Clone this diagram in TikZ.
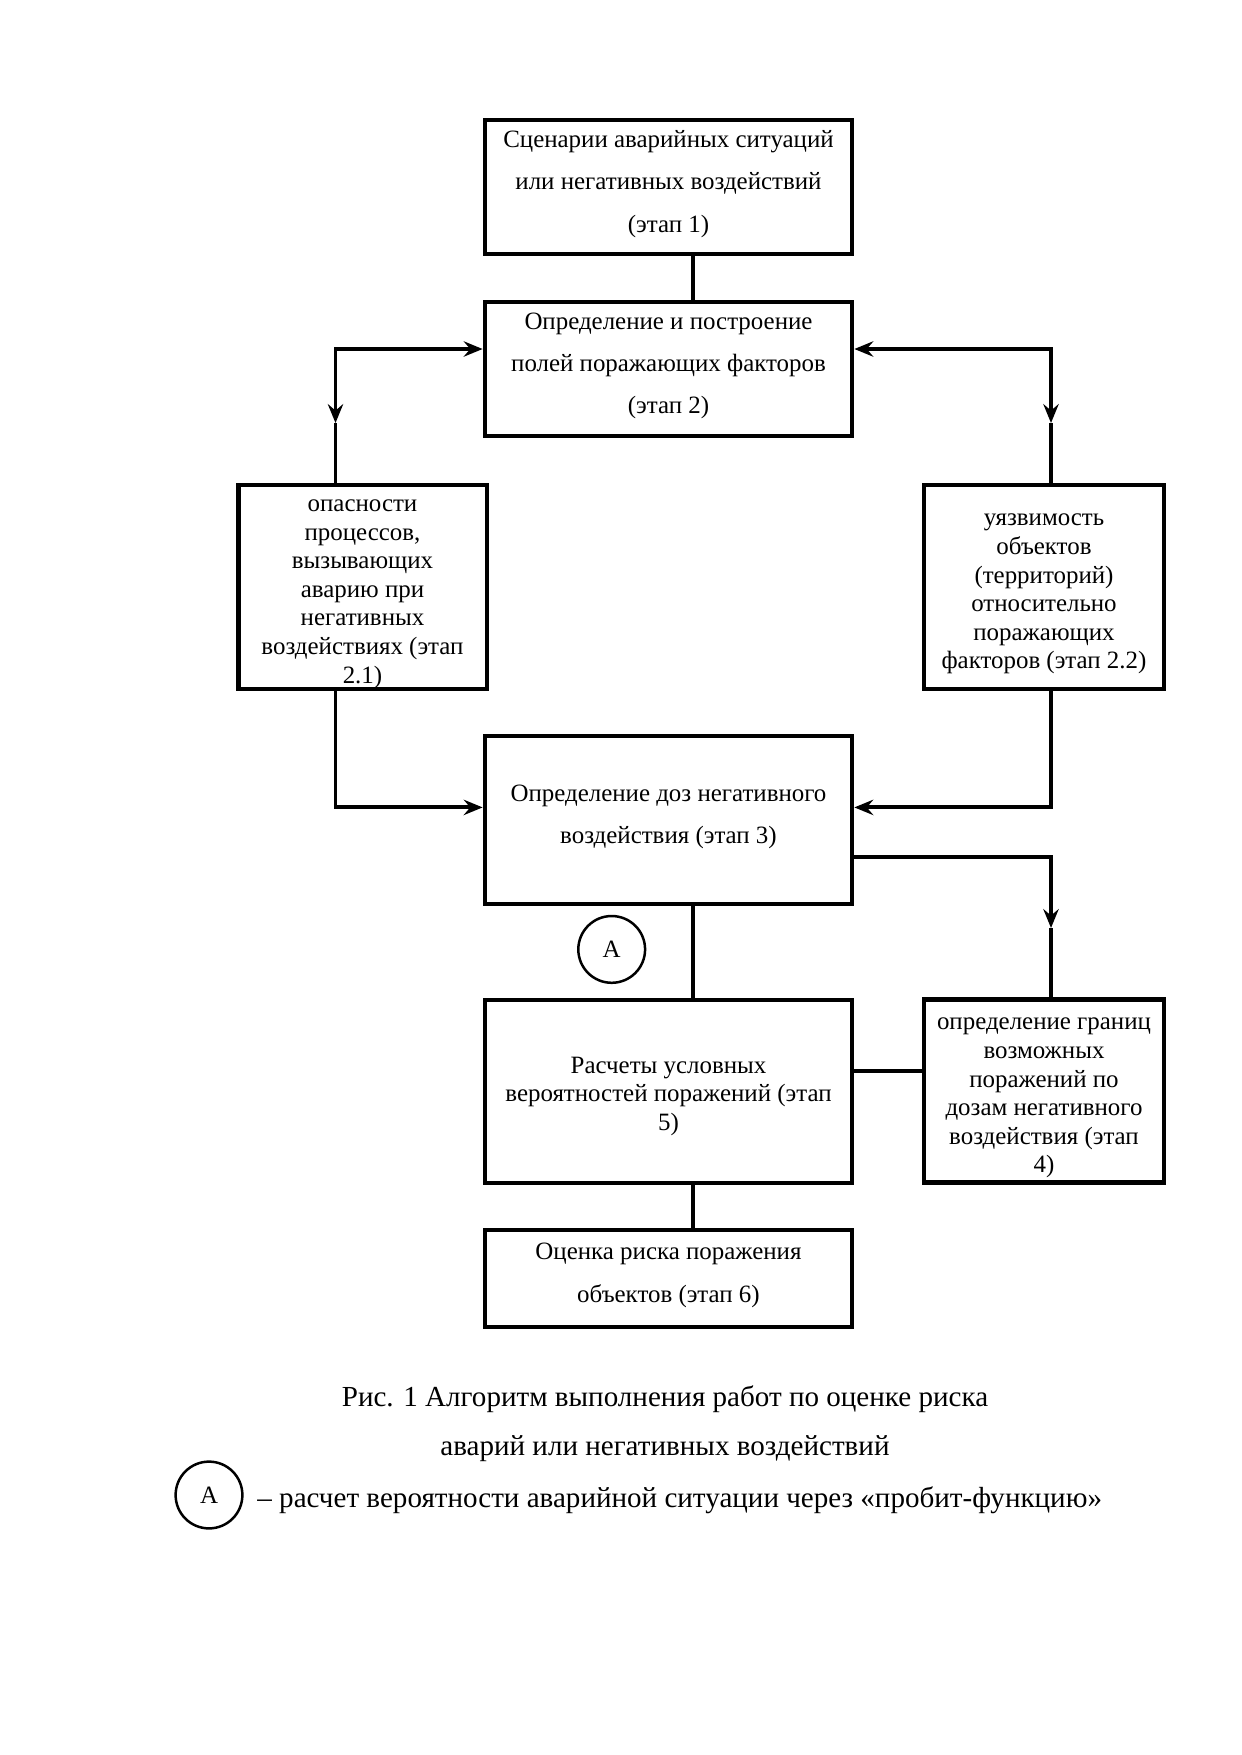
\documentclass[tikz,border=0pt]{standalone}
\usepackage{fontspec}
\setmainfont{Liberation Serif}
\usetikzlibrary{arrows.meta,positioning}
\newcommand{\topgap}{\rule{0pt}{12.5pt}}

\begin{document}
\begin{tikzpicture}[x=0.16923mm,y=-0.16923mm]
  % Стили
  \tikzstyle{frame}=[draw, rectangle, line width=2.3pt, inner sep=0pt, align=center]
  \tikzstyle{stage}=[frame, font=\fontsize{12}{13.8}\selectfont]
  \tikzstyle{wide}=[frame, minimum width=62.1mm, font=\fontsize{12}{20.4}\selectfont, execute at end node={\rule[-5.5pt]{0pt}{0pt}}]
  \tikzstyle{side}=[stage, minimum height=34.5mm]
  \tikzstyle{link}=[line width=1.9pt, line join=miter]
  \tikzstyle{conn}=[link, >={Stealth[length=3.2mm,width=2.6mm,inset=1.1mm]}]
  \tikzstyle{probit}=[draw, circle, line width=1.2pt, minimum size=11.3mm, inner sep=0pt, font=\fontsize{12}{13.8}\selectfont]
  \tikzstyle{caption}=[font=\fontsize{14}{16}\selectfont]

  \useasboundingbox (0,0) rectangle (1241,1755);

  % Узлы
  \node[wide, minimum height=22.7mm] (scen) at (668.5,187) {Сценарии аварийных ситуаций\\или негативных воздействий\\(этап 1)};
  \node[wide, minimum height=22.7mm] (fields) at (668.5,369) {Определение и построение\\полей поражающих факторов\\(этап 2)};
  \node[side, minimum width=42.1mm] (hazard) at (362.5,587) {\topgap опасности\\процессов,\\вызывающих\\аварию при\\негативных\\воздействиях (этап\\2.1)};
  \node[side, minimum width=40.6mm] (vuln) at (1044,587) {\topgap уязвимость\\объектов\\(территорий)\\относительно\\поражающих\\факторов (этап 2.2)};
  \node[wide, minimum height=28.4mm] (dose) at (668.5,820) {Определение доз негативного\\воздействия (этап 3)};
  \node[stage, minimum width=62.1mm, minimum height=31mm] (calc) at (668.5,1091.5) {\topgap Расчеты условных\\вероятностей поражений (этап\\5)};
  \node[stage, minimum width=40.6mm, minimum height=31mm] (bounds) at (1044,1091) {\topgap определение границ\\возможных\\поражений по\\дозам негативного\\воздействия (этап\\4)};
  \node[wide, minimum height=16.4mm] (risk) at (668.5,1278.5) {Оценка риска поражения\\объектов (этап 6)};
  \node[probit] (probA) at (611.7,949.4) {А};

  \node[caption] (cap1) at (665,1399) {Рис. 1 Алгоритм выполнения работ по оценке риска};
  \node[caption] (cap2) at (665,1449) {аварий или негативных воздействий};
  \node[probit] (legA) at (209,1495) {А};
  \node[caption, anchor=west, inner sep=0pt] (legtext) at (257,1500) {– расчет вероятности аварийной ситуации через «пробит-функцию»};

  % Точки изломов
  \coordinate (colC) at (693,0);
  \coordinate (cL) at (335.5,349);
  \coordinate (aL) at (335.5,423);
  \coordinate (cR) at (1051,349);
  \coordinate (aR) at (1051,423);
  \coordinate (dL) at (335.5,807.4);
  \coordinate (dR) at (1051,807.4);
  \coordinate (eR) at (1051,856.6);
  \coordinate (aB) at (1051,928);
  \coordinate (fR) at (0,1071.3);

  % Линии
  \draw[link] (scen.south -| colC) -- (fields.north -| colC);
  \draw[conn,<->] (cL -| fields.west) -- (cL) -- (aL);
  \draw[link] (aL) -- (aL |- hazard.north);
  \draw[conn,<->] (cR -| fields.east) -- (cR) -- (aR);
  \draw[link] (aR) -- (aR |- vuln.north);
  \draw[conn,->] (dL |- hazard.south) -- (dL) -- (dL -| dose.west);
  \draw[conn,->] (dR |- vuln.south) -- (dR) -- (dR -| dose.east);
  \draw[conn,->] (eR -| dose.east) -- (eR) -- (aB);
  \draw[link] (aB) -- (aB |- bounds.north);
  \draw[link] (dose.south -| colC) -- (calc.north -| colC);
  \draw[link] (calc.east |- fR) -- (bounds.west |- fR);
  \draw[link] (calc.south -| colC) -- (risk.north -| colC);
\end{tikzpicture}
\end{document}
